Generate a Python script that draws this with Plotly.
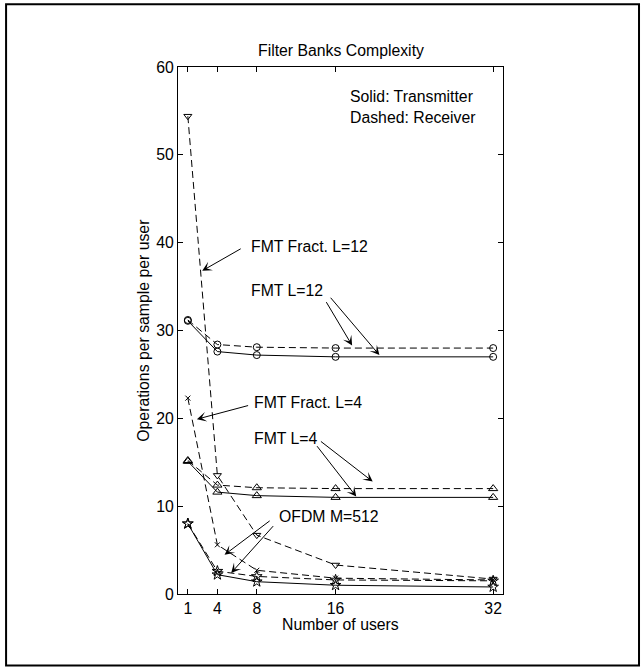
import plotly.graph_objects as go

users = [1, 4, 8, 16, 32]
x_ticks = [1, 4, 8, 16, 32]

fmt12_tx = [31.1, 27.6, 27.2, 27.0, 27.0]
fmt12_rx = [31.2, 28.4, 28.1, 28.0, 28.0]
fract12_rx = [54.4, 13.5, 6.7, 3.3, 1.7]
fmt4_tx = [15.1, 11.6, 11.2, 11.0, 11.0]
fmt4_rx = [15.2, 12.4, 12.1, 12.0, 12.0]
fract4_rx = [22.3, 5.6, 2.7, 1.8, 1.6]
ofdm_tx = [8.0, 2.2, 1.4, 1.0, 0.8]
ofdm_rx = [8.0, 2.6, 2.0, 1.6, 1.5]

FONT = "Arial, Liberation Sans, Helvetica, sans-serif"
FS = 15.8
DASH = "7px,4px"

series = [
    (fmt12_tx, "solid", "circle-open", 7),
    (fmt12_rx, DASH, "circle-open", 7),
    (fract12_rx, DASH, "triangle-down-open", 7),
    (fmt4_tx, "solid", "triangle-up-open", 8),
    (fmt4_rx, DASH, "triangle-up-open", 8),
    (fract4_rx, DASH, "x-thin-open", 5),
    (ofdm_tx, "solid", "star-open", 8),
    (ofdm_rx, DASH, "star-open", 8),
]

fig = go.Figure()
for ys, dash, sym, sz in series:
    fig.add_trace(go.Scatter(
        x=users, y=ys, mode="lines+markers",
        line=dict(color="black", width=1, dash=dash),
        marker=dict(symbol=sym, size=sz, color="black", line=dict(color="black", width=1)),
        showlegend=False,
    ))

# Text labels
labels = [
    ("FMT Fract. L=12", 7.2, 39.6),
    ("FMT L=12", 7.2, 34.5),
    ("FMT Fract. L=4", 7.5, 21.8),
    ("FMT L=4", 7.55, 17.75),
    ("OFDM M=512", 10.1, 8.83),
    ("Solid: Transmitter<br>Dashed: Receiver", 17.3, 55.5),
]
for txt, lx, ly in labels:
    fig.add_annotation(x=lx, y=ly, xref="x", yref="y", text=txt, showarrow=False,
                       xanchor="left", yanchor="middle", align="left",
                       font=dict(family=FONT, size=FS, color="black"))

# Arrows: (head_x, head_y, tail_x, tail_y)
arrows = [
    (2.46, 36.8, 6.52, 39.4),
    (17.68, 28.3, 14.97, 33.4),
    (20.45, 27.2, 15.37, 33.9),
    (1.92, 19.9, 7.27, 21.5),
    (19.77, 12.8, 14.36, 17.5),
    (18.1, 11.1, 14.0, 17.0),
    (4.73, 4.47, 9.46, 8.45),
    (5.4, 2.4, 9.8, 7.9),
]
for hx, hy, tx, ty in arrows:
    fig.add_annotation(x=hx, y=hy, ax=tx, ay=ty, xref="x", yref="y", axref="x", ayref="y",
                       text="", showarrow=True, arrowhead=3, arrowsize=1.6, arrowwidth=1,
                       arrowcolor="black", standoff=0, startstandoff=0)

# Title and axis titles
fig.add_annotation(x=0.5, y=1.0305, xref="paper", yref="paper", text="Filter Banks Complexity",
                   showarrow=False, xanchor="center", yanchor="middle",
                   font=dict(family=FONT, size=FS, color="black"))
fig.add_annotation(x=0.5, y=-0.0577, xref="paper", yref="paper", text="Number of users",
                   showarrow=False, xanchor="center", yanchor="middle",
                   font=dict(family=FONT, size=FS, color="black"))
fig.add_annotation(x=-0.107, y=0.5, xref="paper", yref="paper", text="Operations per sample per user",
                   showarrow=False, xanchor="center", yanchor="middle", textangle=-90,
                   font=dict(family=FONT, size=FS, color="black"))

# Figure border
fig.add_shape(type="rect", xref="paper", yref="paper", x0=-0.529, x1=1.4185, y0=-0.1357, y1=1.1192,
              line=dict(color="black", width=2), fillcolor="rgba(0,0,0,0)")

axis_common = dict(showline=True, linecolor="black", linewidth=1, mirror="allticks",
                   ticks="inside", ticklen=5, tickcolor="black", showgrid=False, zeroline=False,
                   tickfont=dict(family=FONT, size=FS, color="black"))

fig.update_layout(
    width=644, height=667,
    margin=dict(l=178, r=141, t=67, b=73),
    paper_bgcolor="white", plot_bgcolor="white",
    xaxis=dict(range=[0, 33], tickvals=x_ticks, ticktext=[str(v) for v in x_ticks], **axis_common),
    yaxis=dict(range=[0, 60], dtick=10, **axis_common),
)

fig.write_html("out.html", config={"displayModeBar": False},
               post_script="document.body.style.margin='0';document.body.style.overflow='hidden';")
